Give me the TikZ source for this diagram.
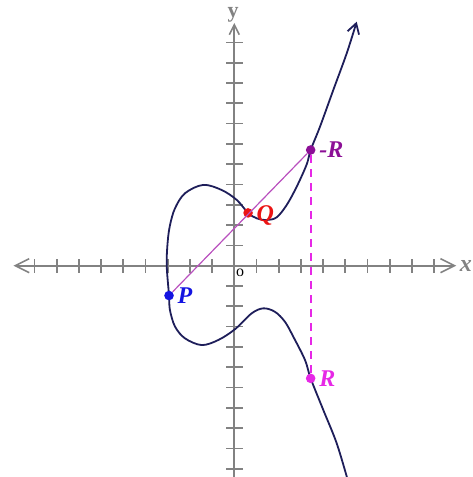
\documentclass[tikz,border=0pt]{standalone}
\usepackage{fontspec}
\setmainfont{Liberation Serif}
\usepackage{xcolor}
\usetikzlibrary{positioning, calc, arrows.meta}

\definecolor{curvenavy}{RGB}{30,30,90}
\definecolor{axisgray}{RGB}{130,130,130}
\definecolor{ptblue}{RGB}{20,20,225}
\definecolor{ptred}{RGB}{235,20,20}
\definecolor{ptpurple}{RGB}{140,15,150}
\definecolor{ptmagenta}{RGB}{230,40,230}
\definecolor{chordpink}{RGB}{185,80,190}

\tikzset{
  axistip/.tip={Straight Barb[length=7pt, width=7pt, line width=0.8pt]},
}

\begin{document}
\begin{tikzpicture}[
  x=11.1pt, y=10.15pt,
  font=\bfseries\itshape\fontsize{12}{14}\selectfont,
  axis/.style={axisgray, line width=0.85pt},
  tickmark/.style={axisgray, line width=0.85pt},
  dot/.style={circle, fill, inner sep=0pt, minimum size=4.8pt},
  ptlabel/.style={inner sep=1.5pt},
]
\useasboundingbox (-10.554,-10.409) rectangle (10.752,13.089);

% tick half lengths (x ticks in y units, y ticks in x units)
\pgfmathsetmacro{\tx}{0.34}
\pgfmathsetmacro{\ty}{0.37}

% ---- axes ----
\coordinate (xl) at (-9.95,0);
\coordinate (xr) at (10.0,0);
\coordinate (yb) at (0,-10.6);
\coordinate (yt) at (0,11.96);
\draw[axis, axistip-axistip] (xl) -- (xr);
\draw[axis, -{Straight Barb[length=5pt, width=5pt, line width=0.8pt]}] (yb) -- (yt);

% ---- ticks ----
\foreach \i in {-9,...,-1,1,2,...,9} {
  \draw[tickmark] (\i,-\tx) -- (\i,\tx);
}
\foreach \j in {-10,...,-1,1,2,...,11} {
  \draw[tickmark] (-\ty,\j) -- (\ty,\j);
}

% ---- axis labels ----
\node[axisgray, anchor=east, inner sep=0pt] (xlab) at (10.72,0) {x};
\node[axisgray, font=\bfseries\fontsize{11}{12}\selectfont, inner sep=0pt] (ylab) at (-0.05,12.35) {y};
\node[font=\fontsize{8}{9}\selectfont, inner sep=0pt] (orig) at (0.26,-0.37) {o};

% ---- the curve (bottom to top) ----
\draw[curvenavy, line width=0.9pt,
      -{Straight Barb[length=5pt, width=6pt, line width=0.9pt]}]
  plot[smooth, tension=0.55] coordinates {
    (5.12,-10.6) (4.613,-8.749) (4.009,-7.108) (3.44,-5.55) (3.185,-4.645)
    (2.658,-3.498) (2.28,-2.76) (1.83,-2.27) (1.31,-2.10) (0.78,-2.35)
    (0.03,-3.13) (-0.72,-3.66) (-1.47,-3.91) (-2.22,-3.58) (-2.67,-3.0)
    (-2.90,-2.18) (-2.94,-1.47) (-3.045,0.03) (-3.0,1.18) (-2.896,2.0)
    (-2.67,2.83) (-2.22,3.57) (-1.40,3.98) (-0.57,3.73) (0.11,3.24)
    (0.62,2.60) (1.009,2.335) (1.459,2.251) (1.910,2.384) (2.360,2.990)
    (2.811,3.892) (3.261,4.99) (3.44,5.70) (3.860,6.847) (4.459,8.655)
    (5.063,10.46) (5.514,12.02)
  };

% ---- points ----
\node[dot, ptblue] (P) at (-2.94,-1.47) {};
\node[dot, ptred] (Q) at (0.62,2.60) {};
\node[dot, ptpurple] (mR) at (3.44,5.70) {};
\node[dot, ptmagenta] (R) at (3.44,-5.55) {};

% ---- chord and reflection ----
\draw[chordpink, line width=0.6pt] (P) -- (mR);
\draw[ptmagenta, line width=1pt, dash pattern=on 4pt off 3pt] (mR) -- (R);

% ---- point labels ----
\node[ptlabel, ptblue, right=0pt of P] (Plab) {P};
\node[ptlabel, ptred, right=0pt of Q, yshift=-1.5pt] (Qlab) {Q};
\node[ptlabel, ptpurple, right=0pt of mR] (mRlab) {-R};
\node[ptlabel, ptmagenta, right=0pt of R] (Rlab) {R};

\end{tikzpicture}
\end{document}
